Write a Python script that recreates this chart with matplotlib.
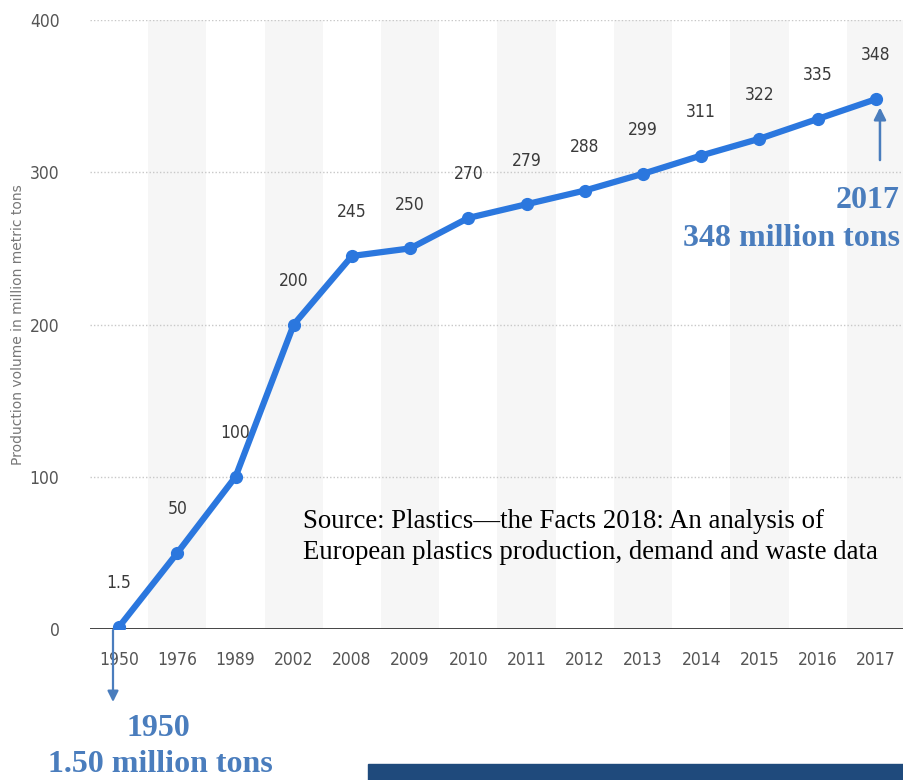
import numpy as np
import matplotlib.pyplot as plt
from matplotlib import font_manager

# 全球塑料产量（百万吨）
years = ['1950', '1976', '1989', '2002', '2008', '2009', '2010', '2011',
         '2012', '2013', '2014', '2015', '2016', '2017']
volume = [1.5, 50, 100, 200, 245, 250, 270, 279, 288, 299, 311, 322, 335, 348]
value_labels = ['1.5', '50', '100', '200', '245', '250', '270', '279',
                '288', '299', '311', '322', '335', '348']
yticks = [0, 100, 200, 300, 400]

# 窄体字体
num_font = font_manager.FontProperties(family='DejaVu Sans', stretch='condensed', size=12.5)

line_color = '#2b77de'
note_color = '#4a7dbd'

fig = plt.figure(figsize=(9.04, 7.8), dpi=100)
ax = fig.add_axes([90 / 904, 1 - 629 / 780, 815 / 904, 609 / 780])

x = np.arange(len(years))

# 隔列浅灰底色
for i in x:
    if i % 2 == 1:
        ax.axvspan(i - 0.5, i + 0.5, color='#f6f6f6', zorder=0, lw=0)

# 网格线
for v in yticks[1:]:
    ax.axhline(v, color='#c8c8c8', lw=1, ls=(0, (1, 1.5)), zorder=1)
ax.axhline(0, color='#333333', lw=2, zorder=2)

# 折线
ax.plot(x, volume, color=line_color, lw=4.5, marker='o', markersize=8.5,
        zorder=3, solid_capstyle='round')

# 数值标签
for xi, v, s in zip(x, volume, value_labels):
    ax.annotate(s, (xi, v), xytext=(0, 25), textcoords='offset points',
                ha='center', va='bottom', color='#3a3a3a',
                fontproperties=num_font)

ax.set_xlim(-0.5, len(years) - 0.5)
ax.set_ylim(0, 400)
ax.set_xticks(x)
ax.set_xticklabels(years, fontproperties=num_font, color='#555555')
ax.set_yticks(yticks)
ax.set_yticklabels([str(t) for t in yticks], fontproperties=num_font,
                   color='#555555')
ax.tick_params(axis='x', length=0, pad=16)
ax.tick_params(axis='y', length=0, pad=22)
for sp in ax.spines.values():
    sp.set_visible(False)

fig.text(18 / 904, 1 - 325 / 780, 'Production volume in million metric tons',
         rotation=90, ha='center', va='center', fontsize=10, color='#777777')

# 数据来源
fig.text(303 / 904, 1 - 509 / 780,
         'Source: Plastics\u2014the Facts 2018: An analysis of\n'
         'European plastics production, demand and waste data',
         family='Liberation Serif', fontsize=19.3, color='black',
         ha='left', va='top', linespacing=1.32, zorder=4)

# 2017 注释
ax.annotate('', xy=(13.07, 348), xytext=(13.07, 308),
            arrowprops=dict(arrowstyle='-|>', color=note_color, lw=1.8,
                            mutation_scale=18, shrinkA=0, shrinkB=6),
            zorder=5)
fig.text(900 / 904, 1 - 200 / 780, '2017', ha='right', va='center',
         family='Liberation Serif', weight='bold', fontsize=23, color=note_color)
fig.text(900 / 904, 1 - 238 / 780, '348 million tons', ha='right', va='center',
         family='Liberation Serif', weight='bold', fontsize=23, color=note_color)

# 1950 注释
ax.annotate('', xy=(113 / 904, 1 - 702 / 780), xytext=(113 / 904, 1 - 630 / 780),
            xycoords='figure fraction', textcoords='figure fraction',
            arrowprops=dict(arrowstyle='-|>', color=note_color, lw=1.6,
                            mutation_scale=16, shrinkA=0, shrinkB=0),
            annotation_clip=False)
fig.text(158 / 904, 1 - 728 / 780, '1950', ha='center', va='center',
         family='Liberation Serif', weight='bold', fontsize=23, color=note_color)
fig.text(160 / 904, 1 / 780, '1.50 million tons', ha='center', va='bottom',
         family='Liberation Serif', weight='bold', fontsize=23, color=note_color)

# 底部色条
fig.patches.append(plt.Rectangle((368 / 904, 0), 536 / 904, 16 / 780,
                                 transform=fig.transFigure, color='#1f4a7c'))

fig.savefig('out.png', dpi=100)
